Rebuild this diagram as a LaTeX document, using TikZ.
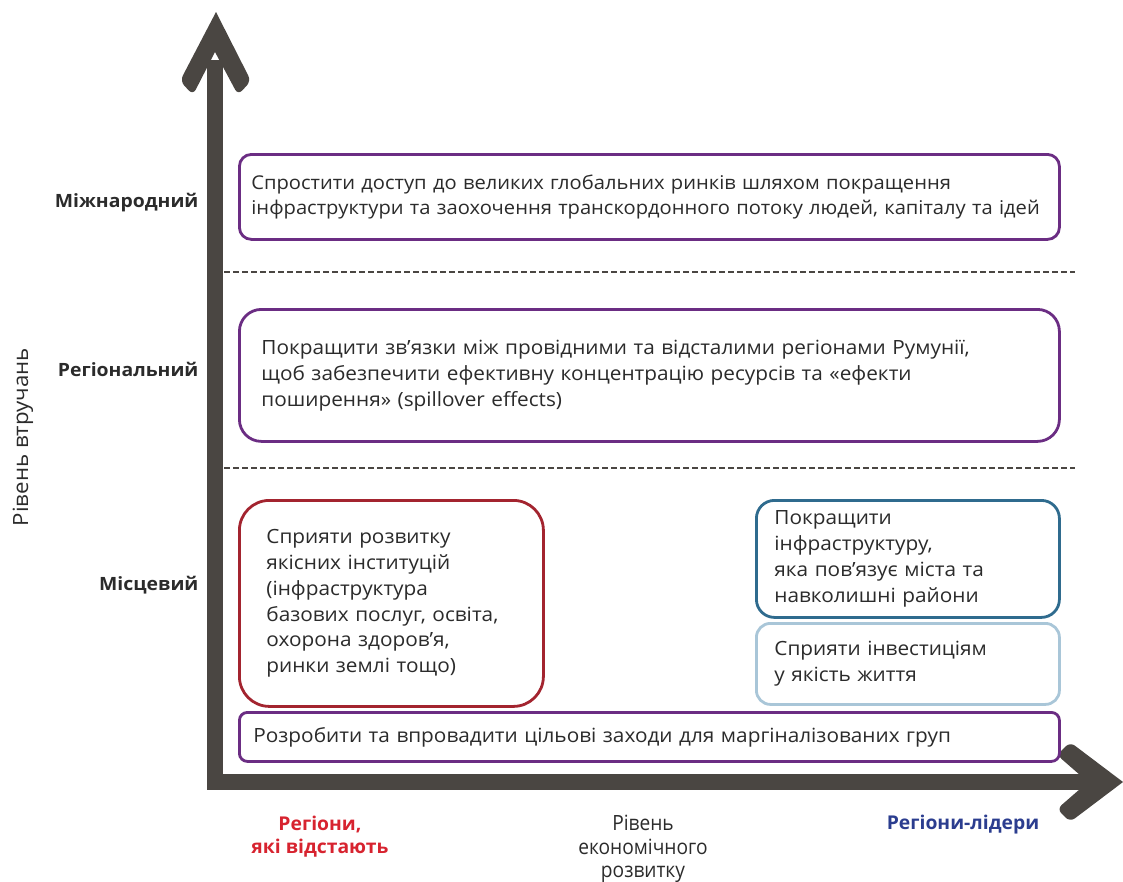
\documentclass[tikz,border=0pt]{standalone}
\usepackage{fontspec}
\setmainfont{Open Sans}[FakeStretch=1.06]
\definecolor{axiscol}{HTML}{4A4642}
\definecolor{purp}{HTML}{6B2D83}
\definecolor{redbox}{HTML}{A3242F}
\definecolor{bluebox}{HTML}{2F6B8E}
\definecolor{lightblue}{HTML}{A9C6D8}
\definecolor{txt}{HTML}{2B2B2B}
\definecolor{redlab}{HTML}{D7232F}
\definecolor{bluelab}{HTML}{2B3D8F}
\tikzset{
  box/.style={draw, line width=2.8pt, fill=white, anchor=north west, align=left, text=txt,
    font=\fontsize{19.6}{25.8}\selectfont, inner ysep=0pt},
  level/.style={anchor=east, text=txt, font=\fontsize{18.3}{24}\selectfont\bfseries},
  dashline/.style={draw=axiscol, line width=1.8pt, dash pattern=on 6pt off 3pt},
  axisline/.style={draw=axiscol, line width=16pt},
}
\begin{document}
\begin{tikzpicture}[x=1pt,y=-1pt]
\useasboundingbox (0,0) rectangle (1123,881);
% axes
\draw[axisline] (215,60) -- (215,790);
\draw[axisline] (207,782) -- (1095,782);
\fill[axiscol] (216,12) [rounded corners=6pt] -- (251,81) -- (238,95) [sharp corners] -- (215,52) [rounded corners=6pt] -- (193,95) -- (180,81) [sharp corners] -- cycle;
\fill[axiscol] (1123,782) [rounded corners=6pt] -- (1070,742) -- (1057,755) [sharp corners] -- (1088,782) [rounded corners=6pt] -- (1057,809) -- (1070,822) [sharp corners] -- cycle;
% dashed separators
\draw[dashline] (224,272) -- (1075,272);
\draw[dashline] (224,468) -- (1075,468);
% boxes
\node[box, draw=purp, rounded corners=12pt, inner xsep=12pt, text width=796pt, minimum height=85pt,
  font=\fontsize{19}{25}\selectfont] (intl) at (238,153)
  {Спростити доступ до великих глобальних ринків шляхом покращення\\інфраструктури та заохочення транскордонного потоку людей, капіталу та ідей};
\node[box, draw=purp, rounded corners=22pt, inner xsep=22pt, text width=776pt, minimum height=132pt] (regl) at (238,308)
  {Покращити зв’язки між провідними та відсталими регіонами Румунії,\\щоб забезпечити ефективну концентрацію ресурсів та «ефекти\\поширення» (spillover effects)};
\node[box, draw=redbox, rounded corners=30pt, inner xsep=27pt, text width=250pt, minimum height=206pt] (inst) at (238,499)
  {Сприяти розвитку\\якісних інституцій\\(інфраструктура\\базових послуг, освіта,\\охорона здоров’я,\\ринки землі тощо)};
\node[box, draw=bluebox, rounded corners=18pt, inner xsep=18pt, text width=267pt, minimum height=117pt] (infra) at (755,499)
  {Покращити\\інфраструктуру,\\яка пов’язує міста та\\навколишні райони};
\node[box, draw=lightblue, rounded corners=14pt, inner xsep=18pt, text width=267pt, minimum height=81pt] (life) at (755,622)
  {Сприяти інвестиціям\\у якість життя};
\node[box, draw=purp, rounded corners=8pt, inner xsep=14pt, text width=792pt, minimum height=49pt] (marg) at (238,711)
  {Розробити та впровадити цільові заходи для маргіналізованих груп};
% level labels
\node[level] (l1) at (202,203) {Міжнародний};
\node[level] (l2) at (202,369) {Регіональний};
\node[level] (l3) at (202,585) {Місцевий};
\node[rotate=90, text=txt, font=\fontsize{21}{24}\selectfont] (ylab) at (23,437) {Рівень втручань};
% bottom labels
\node[text=redlab, align=center, font=\fontsize{19}{23}\selectfont\bfseries] (lag) at (320,837) {\scalebox{0.96}[1]{Регіони,}\\\scalebox{0.96}[1]{які відстають}};
\node[text=txt, align=center, font=\fontsize{21}{23.5}\selectfont] (econ) at (643,849) {\scalebox{0.86}[1]{Рівень}\\\scalebox{0.86}[1]{економічного}\\\scalebox{0.86}[1]{розвитку}};
\node[text=bluelab, font=\fontsize{19}{23}\selectfont\bfseries] (lead) at (963,825) {\scalebox{0.96}[1]{Регіони-лідери}};
\end{tikzpicture}
\end{document}
